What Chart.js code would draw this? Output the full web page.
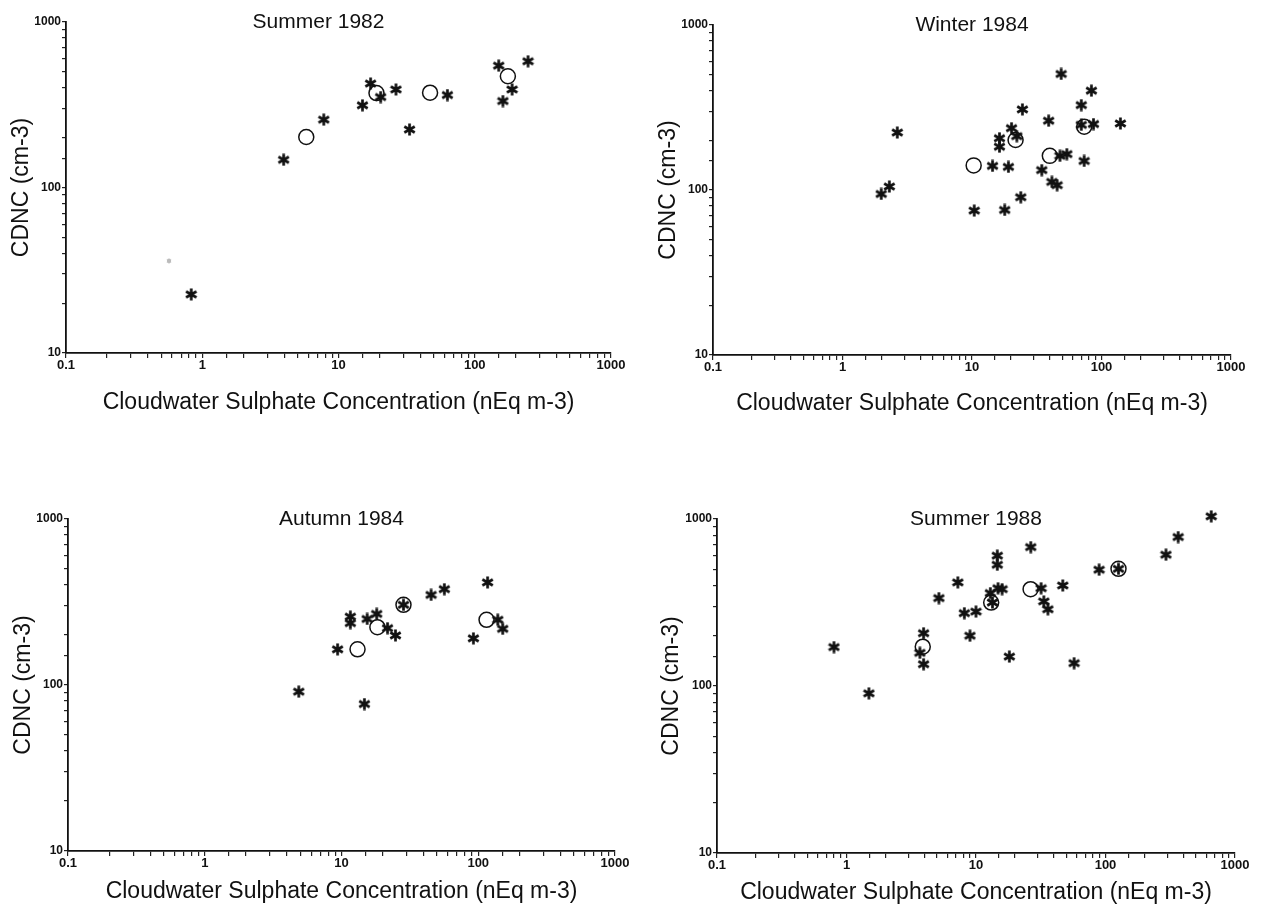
<!DOCTYPE html>
<html>
<head>
<meta charset="utf-8">
<script src="https://cdn.jsdelivr.net/npm/chart.js@4.4.1/dist/chart.umd.min.js"></script>
<style>
  html, body { margin: 0; padding: 0; background: #fff; }
  #wrap { position: relative; width: 1261px; height: 913px; overflow: hidden; }
  canvas { position: absolute; }
</style>
</head>
<body>
<div id="wrap">
  <canvas id="c1" width="630" height="456" style="left:0;top:0"></canvas>
  <canvas id="c2" width="631" height="456" style="left:630px;top:0"></canvas>
  <canvas id="c3" width="630" height="457" style="left:0;top:456px"></canvas>
  <canvas id="c4" width="631" height="457" style="left:630px;top:456px"></canvas>
</div>
<script>
// ---------- data ----------
const xTickLabels = ['0.1', '1', '10', '100', '1000'];
const yTickLabels = ['10', '100', '1000'];
const xAxisTitle = 'Cloudwater Sulphate Concentration (nEq m-3)';
const yAxisTitle = 'CDNC (cm-3)';

const titles = ['Summer 1982', 'Winter 1984', 'Autumn 1984', 'Summer 1988'];

// Summer 1982
const s82StarX = [0.83, 3.96, 7.8, 15.0, 17.2, 20.4, 26.4, 33.2, 63, 150, 161, 188, 246];
const s82StarY = [22.6, 147, 257, 314, 425, 352, 391, 224, 362, 545, 333, 391, 579];
const s82CircX = [5.8, 19.0, 47, 175];
const s82CircY = [202, 372, 374, 470];
const s82FaintX = [0.57];
const s82FaintY = [36];

// Winter 1984
const w84StarX = [1.99, 2.3, 2.65, 10.4, 14.4, 16.3, 16.3, 17.9, 19.1, 20.2, 22.2, 23.8, 24.5, 34.6, 39.1, 41.4, 45.4, 48.8, 47.8, 54, 69.8, 69.8, 73.5, 83.6, 86.7, 140];
const w84StarY = [94.6, 105, 223, 75, 140, 206, 183, 75.7, 138, 237, 212, 90.4, 308, 132, 263, 112, 107, 505, 161, 165, 327, 248, 150, 400, 251, 253];
const w84CircX = [10.3, 21.7, 39.9, 73.5];
const w84CircY = [141, 201, 161, 242];

// Autumn 1984
const a84StarX = [4.87, 9.36, 11.6, 11.6, 14.7, 15.4, 18.1, 21.7, 24.8, 28.4, 45.2, 56.5, 92.2, 117, 139, 151];
const a84StarY = [91.2, 164, 258, 236, 76.8, 250, 268, 220, 199, 304, 349, 378, 191, 415, 247, 218];
const a84CircX = [13.1, 18.3, 28.4, 115];
const a84CircY = [164, 223, 304, 247];

// Summer 1988
const s88StarX = [0.80, 1.49, 3.69, 3.94, 3.94, 5.17, 7.24, 8.13, 8.98, 10.0, 12.9, 13.4, 14.6, 14.6, 14.8, 15.9, 18.1, 26.5, 31.8, 33.4, 35.9, 46.8, 57.2, 89.2, 126, 293, 364, 655];
const s88StarY = [171, 90.4, 158, 207, 135, 336, 417, 273, 200, 279, 360, 316, 603, 532, 385, 380, 150, 679, 385, 321, 288, 400, 137, 497, 503, 611, 780, 1037];
const s88CircX = [3.88, 13.1, 26.4, 126];
const s88CircY = [172, 316, 380, 503];

// ---------- helpers ----------
function pts(xs, ys) { return xs.map((x, i) => ({ x: x, y: ys[i] })); }

function makeStar(size, lw, color) {
  const c = document.createElement('canvas');
  c.width = size; c.height = size;
  const g = c.getContext('2d');
  g.strokeStyle = color; g.lineWidth = lw; g.lineCap = 'butt';
  const cx = size / 2, r = size / 2 - 0.5;
  for (let k = 0; k < 3; k++) {
    const a = Math.PI / 2 + k * Math.PI / 3;
    g.beginPath();
    g.moveTo(cx + r * Math.cos(a), cx + r * Math.sin(a));
    g.lineTo(cx - r * Math.cos(a), cx - r * Math.sin(a));
    g.stroke();
  }
  g.beginPath(); g.arc(cx, cx, 2.2, 0, Math.PI * 2); g.fillStyle = color; g.fill();
  return c;
}
const starImg = makeStar(13, 2.7, '#111');
const faintImg = makeStar(6, 1, '#bbb');

const FONT = '"Liberation Sans", Arial, Helvetica, sans-serif';

const panelTitle = {
  id: 'panelTitle',
  afterDraw(chart, args, opts) {
    const { ctx, chartArea } = chart;
    ctx.save();
    ctx.font = '21px ' + FONT;
    ctx.fillStyle = '#111';
    ctx.textAlign = 'center';
    ctx.textBaseline = 'middle';
    ctx.fillText(opts.text, (chartArea.left + chartArea.right) / 2 + (opts.dx || 0), chartArea.top + (opts.dy || 0));
    ctx.restore();
  }
};

function isDecade(v) {
  const l = Math.log10(v);
  return Math.abs(l - Math.round(l)) < 1e-9;
}
function decadeLabel(v, labels, minExp) {
  if (!isDecade(v)) return '';
  const idx = Math.round(Math.log10(v)) - minExp;
  return labels[idx] !== undefined ? labels[idx] : '';
}

function makeChart(id, cfg) {
  const datasets = [
    {
      label: 'stars', data: pts(cfg.sx, cfg.sy),
      pointStyle: starImg, pointRadius: 6, clip: false
    },
    {
      label: 'circles', data: pts(cfg.cx, cfg.cy),
      pointStyle: 'circle', pointRadius: 7.5, pointBorderWidth: 1.5,
      pointBorderColor: '#111', pointBackgroundColor: 'rgba(0,0,0,0)', clip: false
    }
  ];
  if (cfg.fx) {
    datasets.push({ label: 'faint', data: pts(cfg.fx, cfg.fy), pointStyle: faintImg, pointRadius: 3, clip: false });
  }
  return new Chart(document.getElementById(id), {
    type: 'scatter',
    data: { datasets: datasets },
    plugins: [panelTitle],
    options: {
      responsive: false,
      animation: false,
      devicePixelRatio: 1,
      layout: { padding: cfg.pad },
      plugins: {
        legend: { display: false },
        tooltip: { enabled: false },
        panelTitle: { text: cfg.title, dx: cfg.titleDx || 0 }
      },
      scales: {
        x: {
          type: 'logarithmic', min: 0.1, max: 1000,
          afterFit(s) { s.height = cfg.xH; },
          border: { display: true, color: '#111', width: 1.8 },
          grid: { drawOnChartArea: false, drawTicks: true, tickLength: 5, color: '#222', lineWidth: 1.2 },
          ticks: {
            autoSkip: false, maxRotation: 0, minRotation: 0, padding: 0, color: '#111',
            font: { family: FONT, size: 13, weight: 'bold' },
            callback: (v) => decadeLabel(v, xTickLabels, -1)
          },
          title: { display: true, text: xAxisTitle, color: '#111', padding: 0,
                   font: { family: FONT, size: 23 } }
        },
        y: {
          type: 'logarithmic', min: 10, max: 1000,
          afterFit(s) { s.width = cfg.yW; },
          border: { display: true, color: '#111', width: 1.8 },
          grid: { drawOnChartArea: false, drawTicks: true, tickLength: 4, color: '#222', lineWidth: 1.2 },
          ticks: {
            autoSkip: false, padding: 1, color: '#111',
            font: { family: FONT, size: 12, weight: 'bold' },
            callback: (v) => decadeLabel(v, yTickLabels, 1)
          },
          title: { display: true, text: yAxisTitle, color: '#111', padding: 0,
                   font: { family: FONT, size: 23 } }
        }
      }
    }
  });
}

makeChart('c1', { title: titles[0], titleDx: -20, sx: s82StarX, sy: s82StarY, cx: s82CircX, cy: s82CircY, fx: s82FaintX, fy: s82FaintY,
  pad: { top: 22, right: 19, left: 8, bottom: 40 }, yW: 58, xH: 63 });
makeChart('c2', { title: titles[1], sx: w84StarX, sy: w84StarY, cx: w84CircX, cy: w84CircY,
  pad: { top: 25, right: 30, left: 25, bottom: 39 }, yW: 58, xH: 62 });
makeChart('c3', { title: titles[2], sx: a84StarX, sy: a84StarY, cx: a84CircX, cy: a84CircY,
  pad: { top: 63, right: 15, left: 10, bottom: 8 }, yW: 58, xH: 54 });
makeChart('c4', { title: titles[3], sx: s88StarX, sy: s88StarY, cx: s88CircX, cy: s88CircY,
  pad: { top: 63, right: 26, left: 28, bottom: 7 }, yW: 59, xH: 53 });
</script>
</body>
</html>
